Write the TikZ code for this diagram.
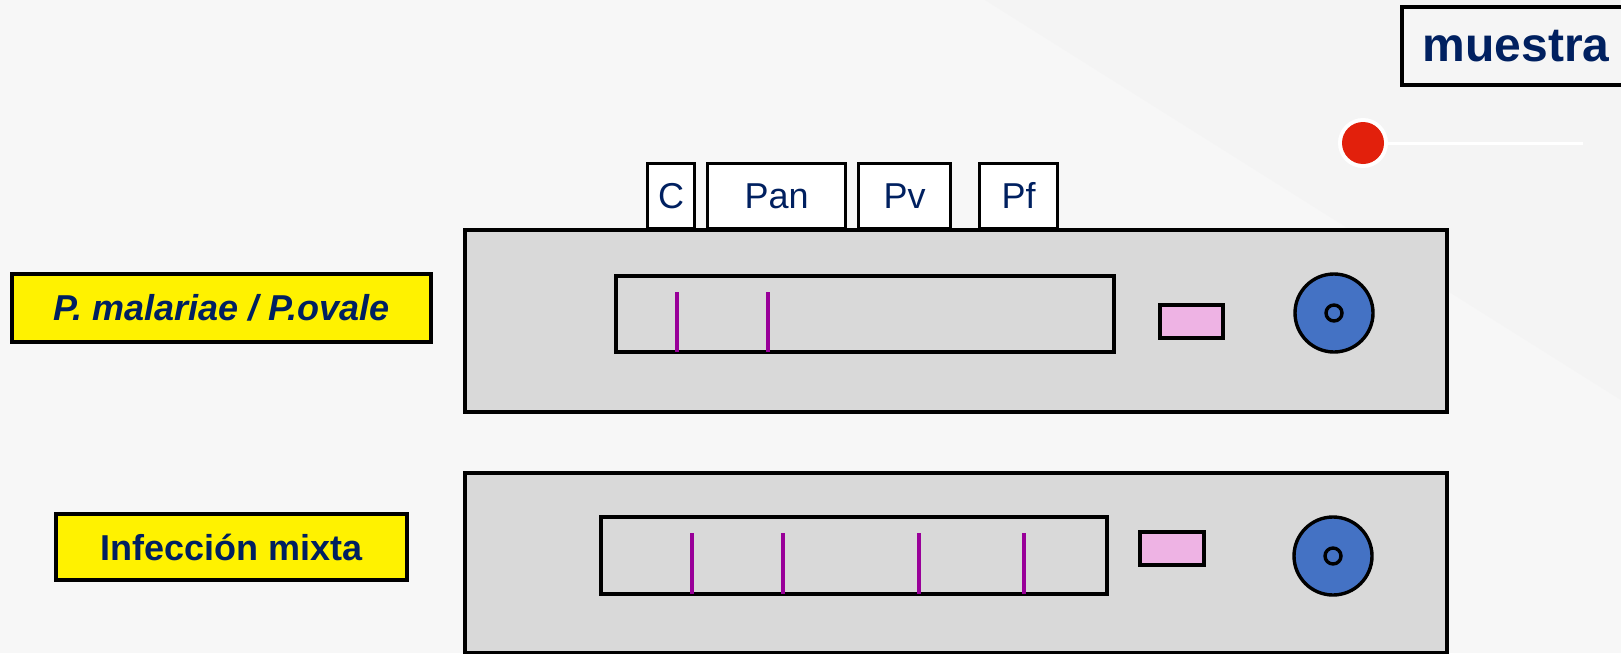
\documentclass[tikz,border=0pt]{standalone}
\usepackage{fontspec}
\setmainfont{Liberation Sans}
\usepackage{xcolor}
\usetikzlibrary{positioning}
\definecolor{navy}{HTML}{002060}
\definecolor{cassgray}{HTML}{D9D9D9}
\definecolor{stripe}{HTML}{990099}
\definecolor{pad}{HTML}{EEB3E4}
\definecolor{well}{HTML}{4472C4}
\definecolor{dot}{HTML}{E2200C}

\begin{document}
\begin{tikzpicture}[x=1pt,y=-1pt,
    tab/.style={draw, line width=3.4pt, fill=white, inner sep=0pt, minimum height=65pt,
      anchor=south west, text=navy, font=\fontsize{36}{40}\selectfont},
    tag/.style={draw, line width=3.4pt, fill=yellow, inner sep=0pt, text=navy,
      font=\fontsize{36}{40}\selectfont\bfseries},
    cassette/.style={draw, line width=3.4pt, fill=cassgray},
    band/.style={draw=stripe, line width=3.6pt}]
    % Background
    \fill[fill=black!3] (0,0) rectangle (1621,653);
    \fill[fill=black!4.2] (985,0) -- (1621,0) -- (1621,400) -- cycle;
    \useasboundingbox (0,0) rectangle (1621,653);

    % Sample label and marker
    \node[draw, line width=3.4pt, fill=black!4, minimum width=228pt, minimum height=78pt,
      inner sep=0pt, text=navy, font=\fontsize{48}{52}\selectfont\bfseries] (muestra) at (1516,46) {muestra};
    \draw[white, line width=3pt] (1363,143) -- (1583,143);
    \fill[white] (1363,143) circle[radius=25];
    \fill[dot] (1363,143) circle[radius=21];

    % Top cassette
    \node[tab, minimum width=47pt] (c) at (646,230) {C};
    \node[tab, minimum width=138pt] (pan) at (706,230) {Pan};
    \node[tab, minimum width=92pt] (pv) at (857,230) {Pv};
    \node[tab, minimum width=78pt] (pf) at (978,230) {Pf};
    \draw[cassette] (465,230) rectangle (1447,412);
    \draw[line width=3.4pt] (616,276) rectangle (1114,352);
    \draw[band] (677,292) -- (677,352);
    \draw[band] (768,292) -- (768,352);
    \draw[line width=3.4pt, fill=pad] (1160,305) rectangle (1223,338);
    \draw[line width=3.4pt, fill=well] (1334,313) circle[radius=39];
    \draw[line width=3.4pt, fill=well] (1334,313) circle[radius=8];

    % Bottom cassette
    \draw[cassette] (465,473) rectangle (1447,653);
    \draw[line width=3.4pt] (601,517) rectangle (1107,594);
    \foreach \x in {692,783,919,1024}
      \draw[band] (\x,533) -- (\x,594);
    \draw[line width=3.4pt, fill=pad] (1140,532) rectangle (1204,565);
    \draw[line width=3.4pt, fill=well] (1333,556) circle[radius=39];
    \draw[line width=3.4pt, fill=well] (1333,556) circle[radius=8];

    % Result labels
    \node[tag, minimum width=419pt, minimum height=68pt] (pmpo) at (221.5,308) {\itshape P. malariae / P.ovale};
    \node[tag, minimum width=351pt, minimum height=66pt] (mixta) at (231.5,547) {Infección mixta};
\end{tikzpicture}
\end{document}
